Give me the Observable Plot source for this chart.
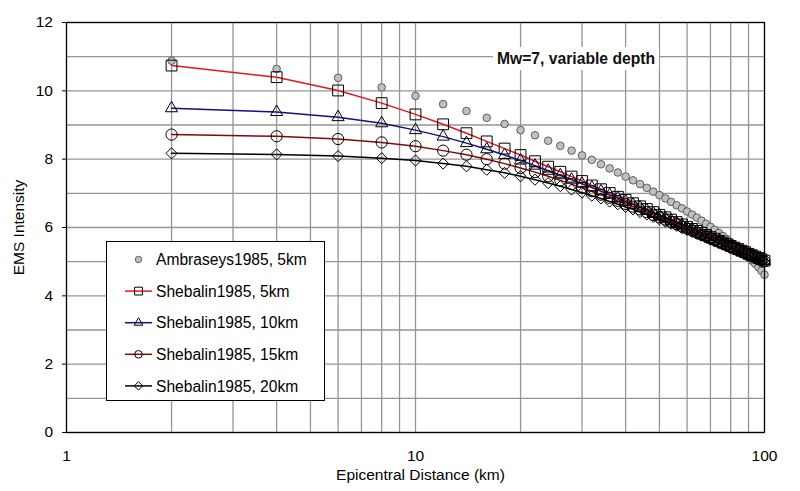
<!DOCTYPE html>
<html><head><meta charset="utf-8">
<script src="https://cdn.jsdelivr.net/npm/d3@7"></script>
<script src="https://cdn.jsdelivr.net/npm/@observablehq/plot@0.6"></script>
<style>
body{margin:0;background:#fff;font-family:"Liberation Sans",Arial,sans-serif;}
#wrap{position:relative;width:800px;height:491px;}
#title{position:absolute;left:493px;top:47px;width:166px;height:23px;background:#fff;font-weight:bold;font-size:15.7px;text-align:center;line-height:23px;color:#111;}
#legend{position:absolute;left:106px;top:241px;width:217px;height:158px;border:1px solid #000;background:#fff;}
#legend svg{display:block;}
</style></head><body><div id="wrap"></div>
<script>
// ---- data ----
const distances = [2,4,6,8,10,12,14,16,18,20,22,24,26,28,30,32,34,36,38,40,42,44,46,48,50,52,54,56,58,60,62,64,66,68,70,72,74,76,78,80,82,84,86,88,90,92,94,96,98,100];
const ambraseys5 = [10.88,10.64,10.38,10.10,9.85,9.61,9.41,9.21,9.03,8.85,8.70,8.54,8.39,8.25,8.11,7.98,7.85,7.73,7.61,7.49,7.38,7.27,7.16,7.05,6.95,6.85,6.75,6.65,6.56,6.47,6.38,6.29,6.20,6.11,6.02,5.93,5.84,5.75,5.66,5.57,5.48,5.39,5.30,5.21,5.12,5.03,4.94,4.84,4.73,4.62];
const shebalin5 = [10.74,10.40,10.01,9.64,9.31,9.02,8.76,8.52,8.31,8.12,7.94,7.78,7.63,7.49,7.36,7.23,7.12,7.01,6.90,6.81,6.71,6.62,6.54,6.45,6.37,6.30,6.23,6.16,6.09,6.02,5.96,5.90,5.84,5.78,5.72,5.67,5.61,5.56,5.51,5.46,5.41,5.37,5.32,5.28,5.23,5.19,5.15,5.11,5.07,5.03];
const shebalin10 = [9.49,9.38,9.23,9.05,8.85,8.66,8.47,8.29,8.12,7.96,7.81,7.66,7.53,7.40,7.28,7.17,7.06,6.95,6.86,6.76,6.67,6.59,6.50,6.42,6.35,6.27,6.20,6.13,6.07,6.00,5.94,5.88,5.82,5.76,5.71,5.65,5.60,5.55,5.50,5.45,5.40,5.36,5.31,5.27,5.22,5.18,5.14,5.10,5.06,5.02];
const shebalin15 = [8.72,8.67,8.59,8.49,8.38,8.25,8.13,8.00,7.87,7.74,7.62,7.50,7.38,7.27,7.16,7.06,6.96,6.87,6.78,6.69,6.61,6.53,6.45,6.37,6.30,6.23,6.16,6.10,6.03,5.97,5.91,5.85,5.79,5.74,5.68,5.63,5.58,5.53,5.48,5.43,5.39,5.34,5.30,5.25,5.21,5.17,5.13,5.09,5.05,5.01];
const shebalin20 = [8.17,8.14,8.09,8.03,7.96,7.87,7.79,7.69,7.60,7.50,7.40,7.30,7.21,7.11,7.02,6.93,6.85,6.76,6.68,6.60,6.53,6.45,6.38,6.31,6.24,6.17,6.11,6.05,5.98,5.93,5.87,5.81,5.76,5.70,5.65,5.60,5.55,5.50,5.45,5.41,5.36,5.32,5.27,5.23,5.19,5.15,5.11,5.07,5.03,4.99];
const seriesNames = ["Ambraseys1985, 5km","Shebalin1985, 5km","Shebalin1985, 10km","Shebalin1985, 15km","Shebalin1985, 20km"];
const xTickValues = [1,10,100];
const xGridValues = [1,2,3,4,5,6,7,8,9,10,20,30,40,50,60,70,80,90,100];
const yTickValues = [0,2,4,6,8,10,12];
const yGridValues = [0,1,2,3,4,5,6,7,8,9,10,11,12];
const titleText = "Mw=7, variable depth";
const xLabel = "Epicentral Distance (km)";
const yLabel = "EMS Intensity";

// ---- styles ----
const FS = 15.5;
const shebalin = [
  {name: seriesNames[1], values: shebalin5,  color: "#e3161e", symbol: "square",   r: 6.1, lr: 4.4},
  {name: seriesNames[2], values: shebalin10, color: "#101080", symbol: "triangle", r: 4.5, lr: 3.2},
  {name: seriesNames[3], values: shebalin15, color: "#800a0a", symbol: "circle",   r: 5.6, lr: 3.8},
  {name: seriesNames[4], values: shebalin20, color: "#000000", symbol: "diamond2", r: 5.0, lr: 3.8}
];
const rowsOf = vals => distances.map((d, i) => ({x: d, y: vals[i]}));

const marks = [
  Plot.gridY(yGridValues, {stroke: "#959595", strokeOpacity: 1, strokeWidth: 1.3}),
  Plot.gridX(xGridValues, {stroke: "#959595", strokeOpacity: 1, strokeWidth: 1.3}),
  Plot.dot(rowsOf(ambraseys5), {x: "x", y: "y", r: 3.8, fill: "#c0c0c0", stroke: "#505050", strokeWidth: 0.9})
];
for (const s of shebalin) {
  const rows = rowsOf(s.values);
  marks.push(Plot.line(rows, {x: "x", y: "y", stroke: s.color, strokeWidth: 1.5}));
  marks.push(Plot.dot(rows, {x: "x", y: "y", symbol: () => s.symbol, r: s.r, stroke: "#000", fill: "none", strokeWidth: 1}));
}
marks.push(
  Plot.frame({stroke: "#000", strokeWidth: 1.2}),
  Plot.axisX(xTickValues, {tickSize: 0, tickPadding: 17, fontSize: FS, tickFormat: d => String(d), label: null}),
  Plot.axisY(yTickValues, {tickSize: 4, tickPadding: 9.5, fontSize: FS, tickFormat: d => String(d), label: null}),
  Plot.text([yLabel], {text: d => d, frameAnchor: "left", dx: -47, rotate: -90, fontSize: FS, textAnchor: "middle", lineAnchor: "middle", fill: "#000"}),
  Plot.text([xLabel], {text: d => d, frameAnchor: "bottom", dx: 5, dy: 43, fontSize: FS, textAnchor: "middle", lineAnchor: "middle", fill: "#000"})
);

const chart = Plot.plot({
  width: 800, height: 491,
  marginLeft: 66, marginRight: 36, marginTop: 22, marginBottom: 59,
  x: {type: "log", domain: [1, 100]},
  y: {domain: [0, 12]},
  style: {fontSize: FS + "px", fontFamily: "'Liberation Sans', Arial, sans-serif", color: "#000", background: "#fff"},
  marks
});
const wrap = document.getElementById("wrap");
wrap.appendChild(chart);

// title box
const t = document.createElement("div");
t.id = "title"; t.textContent = titleText;
wrap.appendChild(t);

// legend
const lg = document.createElement("div");
lg.id = "legend";
wrap.appendChild(lg);
const svg = d3.select(lg).append("svg").attr("width", 217).attr("height", 158)
  .style("font-family", "'Liberation Sans', Arial, sans-serif").style("font-size", "15.6px");
const symMap = {square: d3.symbolSquare, triangle: d3.symbolTriangle, circle: d3.symbolCircle, diamond2: d3.symbolDiamond2};
const items = [{name: seriesNames[0], amb: true}].concat(shebalin);
items.forEach((it, i) => {
  const cy = 17.5 + 31.6 * i;
  const g = svg.append("g").attr("transform", `translate(0,${cy})`);
  if (it.amb) {
    g.append("circle").attr("cx", 31.5).attr("cy", 0).attr("r", 3.2).attr("fill", "#c0c0c0").attr("stroke", "#505050").attr("stroke-width", 0.9);
  } else {
    g.append("line").attr("x1", 18).attr("x2", 45).attr("y1", 0).attr("y2", 0).attr("stroke", it.color).attr("stroke-width", 1.5);
    g.append("path").attr("transform", "translate(31.5,0)")
      .attr("d", d3.symbol(symMap[it.symbol], Math.PI * it.lr * it.lr)())
      .attr("fill", "none").attr("stroke", "#000").attr("stroke-width", 1);
  }
  g.append("text").attr("x", 49).attr("y", 0).attr("dy", "0.36em").text(it.name);
});
</script>
</body></html>
